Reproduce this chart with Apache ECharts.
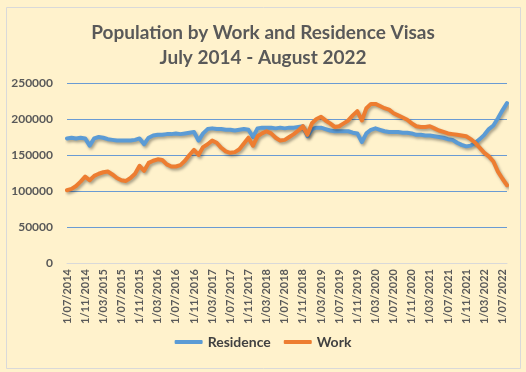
<!DOCTYPE html>
<html>
<head>
<meta charset="utf-8">
<script src="https://cdn.jsdelivr.net/npm/echarts@6/dist/echarts.min.js"></script>
<style>
html,body{margin:0;padding:0;background:#FFF2CC;}
#c{width:526px;height:372px;}
</style>
</head>
<body>
<div id="c"></div>
<script>
// Monthly categories July 2014 - August 2022
const months = [];
(function(){
  let y = 2014, m = 7;
  for (let k = 0; k < 98; k++) {
    months.push('1/' + (m < 10 ? '0' + m : '' + m) + '/' + y);
    m++; if (m > 12) { m = 1; y++; }
  }
})();

const residence = [
173000,174000,173000,174000,173000,163000,173000,175000,174000,172000,
171000,170000,170000,170000,170000,171000,173000,165000,174000,177000,
178000,178000,179000,179000,180000,179000,180000,181000,182000,170000,
180000,186000,187000,186000,186000,185000,185000,184000,185000,186000,
185000,175000,187000,188000,188000,188000,187000,188000,187000,188000,
188000,189000,190000,176000,186000,188000,188000,186000,184000,183000,
183000,183000,183000,181000,180000,168000,180000,185000,187000,185000,
183000,182000,182000,182000,181000,181000,180000,178000,178000,177000,
177000,176000,175000,174000,172000,171000,167000,164000,162000,163000,
167000,172000,178000,186000,191000,201000,212000,222000
];

const work = [
101000,103000,107000,113000,120000,115000,121000,124000,126000,127000,
123000,118000,115000,114000,118000,124000,135000,128000,139000,142000,
144000,143000,137000,134000,134000,136000,142000,150000,157000,150000,
161000,165000,170000,167000,160000,155000,153000,154000,158000,166000,
174000,163000,176000,180000,183000,180000,174000,170000,171000,175000,
179000,184000,190000,178000,194000,200000,203000,198000,194000,189000,
190000,194000,198000,205000,211000,198000,215000,221000,221000,218000,
215000,213000,208000,205000,202000,199000,194000,190000,189000,189000,
190000,187000,184000,182000,180000,179000,178000,177000,176000,172000,
167000,160000,153000,148000,141000,127000,117000,108000
];

const yTicks = [0, 50000, 100000, 150000, 200000, 250000];
const titleLines = ['Population by Work and Residence Visas', 'July 2014 - August 2022'];
const seriesNames = ['Residence', 'Work'];

const chart = echarts.init(document.getElementById('c'), null, {renderer: 'canvas'});
const shadow = {shadowColor: 'rgba(0,0,0,0.35)', shadowBlur: 3, shadowOffsetX: 1.5, shadowOffsetY: 2};
chart.setOption({
  backgroundColor: '#FFF2CC',
  animation: false,
  textStyle: {fontFamily: 'Lato, "Open Sans", sans-serif'},
  graphic: [{
    type: 'rect', left: 4, top: 5, shape: {width: 514, height: 361},
    style: {fill: 'none', stroke: '#D9D9D9', lineWidth: 1}, silent: true
  }],
  title: {
    text: titleLines.join('\n'),
    left: 'center', top: 15,
    textStyle: {fontFamily: 'Lato, sans-serif', fontWeight: 'bold', fontSize: 19, color: '#595959', lineHeight: 25}
  },
  legend: {
    data: seriesNames, bottom: 18, left: 'center',
    icon: 'roundRect', itemWidth: 28, itemHeight: 4, itemGap: 13,
    textStyle: {fontFamily: 'Lato, sans-serif', fontWeight: 'bold', fontSize: 14, color: '#404040'}
  },
  grid: {left: 67, right: 19, top: 83, bottom: 109, containLabel: false},
  xAxis: {
    type: 'category', data: months, boundaryGap: false,
    axisLine: {lineStyle: {color: '#D9D9D9'}},
    axisTick: {show: false},
    axisLabel: {interval: 3, rotate: 90, color: '#595959', fontSize: 11, fontWeight: 'bold', margin: 6,
      fontFamily: 'Lato, sans-serif'},
    splitLine: {show: false}
  },
  yAxis: {
    type: 'value', min: 0, max: 250000, interval: 50000,
    axisLine: {show: false}, axisTick: {show: false},
    axisLabel: {color: '#595959', fontSize: 12, fontWeight: 'bold', margin: 14,
      fontFamily: 'Lato, sans-serif', formatter: v => String(v)},
    splitLine: {lineStyle: {color: '#6A9BD3', width: 1}}
  },
  series: [
    {name: seriesNames[0], type: 'line', data: residence, showSymbol: false, symbol: 'none',
     lineStyle: Object.assign({color: '#5B9BD5', width: 4, cap: 'round', join: 'round'}, shadow),
     itemStyle: {color: '#5B9BD5'}},
    {name: seriesNames[1], type: 'line', data: work, showSymbol: false, symbol: 'none',
     lineStyle: Object.assign({color: '#ED7D31', width: 4, cap: 'round', join: 'round'}, shadow),
     itemStyle: {color: '#ED7D31'}}
  ]
});
</script>
</body>
</html>
